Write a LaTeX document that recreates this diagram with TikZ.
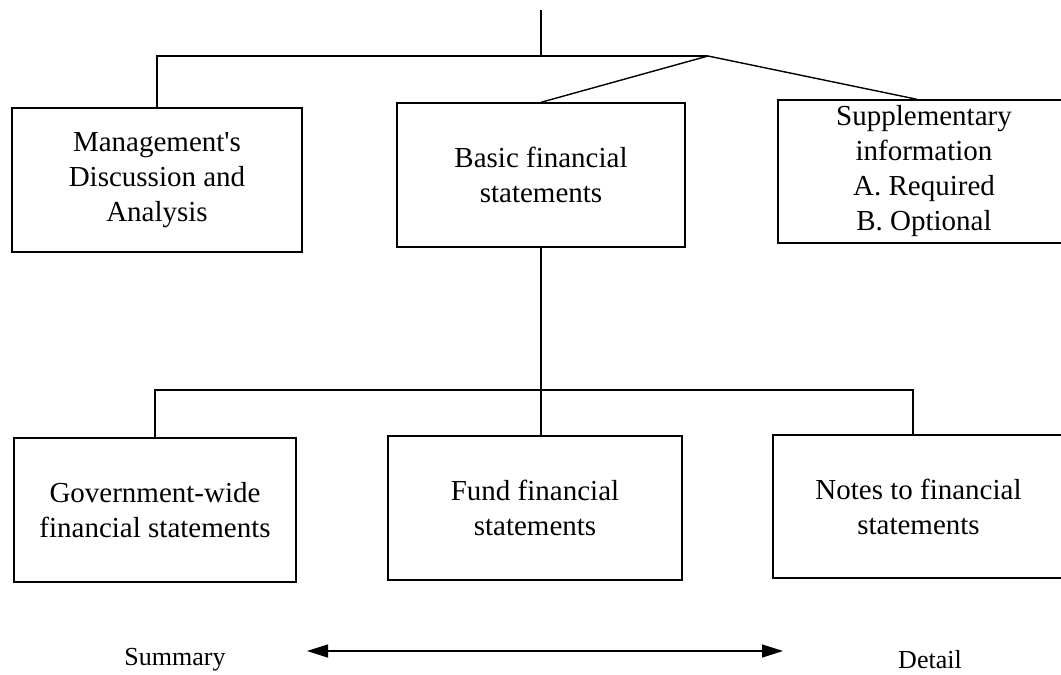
\documentclass[tikz,border=0pt]{standalone}
\usepackage{fontspec}
\setmainfont{Liberation Serif}[Ligatures=TeXOff]
\usetikzlibrary{arrows.meta}
\begin{document}
\begin{tikzpicture}[x=1pt,y=-1pt,
 box/.style={draw, line width=1.4pt, align=center, inner sep=0pt, anchor=center,
   font=\fontsize{29}{35}\selectfont},
 conn/.style={line width=1.4pt},
 lbl/.style={font=\fontsize{26}{30}\selectfont, inner sep=0pt, anchor=center}]
\useasboundingbox (0,0) rectangle (1061,675);
\clip (0,0) rectangle (1061,675);
% top level boxes
\node[box, minimum width=290pt, minimum height=144pt] (mda) at (157,180)
  {Management's\\Discussion and\\Analysis};
\node[box, minimum width=288pt, minimum height=144pt] (basic) at (541,175)
  {Basic financial\\statements};
\node[box, minimum width=292pt, minimum height=143pt] (supp) at (924,171.5)
  {Supplementary\\information\\A. Required\\B. Optional};
% bottom level boxes
\node[box, minimum width=282pt, minimum height=144pt] (gov) at (155,510)
  {Government-wide\\financial statements};
\node[box, minimum width=294pt, minimum height=144pt] (fund) at (535,508)
  {Fund financial\\statements};
\node[box, minimum width=291pt, minimum height=143pt] (notes) at (918.5,506.5)
  {Notes to financial\\statements};
% connectors top
\coordinate (top) at (541,10);
\coordinate (hub) at (708,56);
\draw[conn] (top) -- (top |- hub);
\draw[conn] (mda.north) |- (hub);
\draw[conn] (hub) -- (basic.north);
\draw[conn] (hub) -- ([xshift=-7pt]supp.north);
% connectors bottom
\coordinate (bj) at (541,390);
\coordinate (nj) at (913,390);
\draw[conn] (basic.south) -- (bj) -- (bj |- fund.north);
\draw[conn] (gov.north) |- (nj) -- (nj |- notes.north);
% summary/detail arrow
\node[lbl] (sum) at (175,660) {Summary};
\node[lbl] (det) at (930,660) {Detail};
\coordinate (al) at (307,651);
\coordinate (ar) at (783,651);
\draw[conn, {Triangle[length=21pt,width=13pt]}-{Triangle[length=21pt,width=13pt]}] (al) -- (ar);
\end{tikzpicture}
\end{document}
